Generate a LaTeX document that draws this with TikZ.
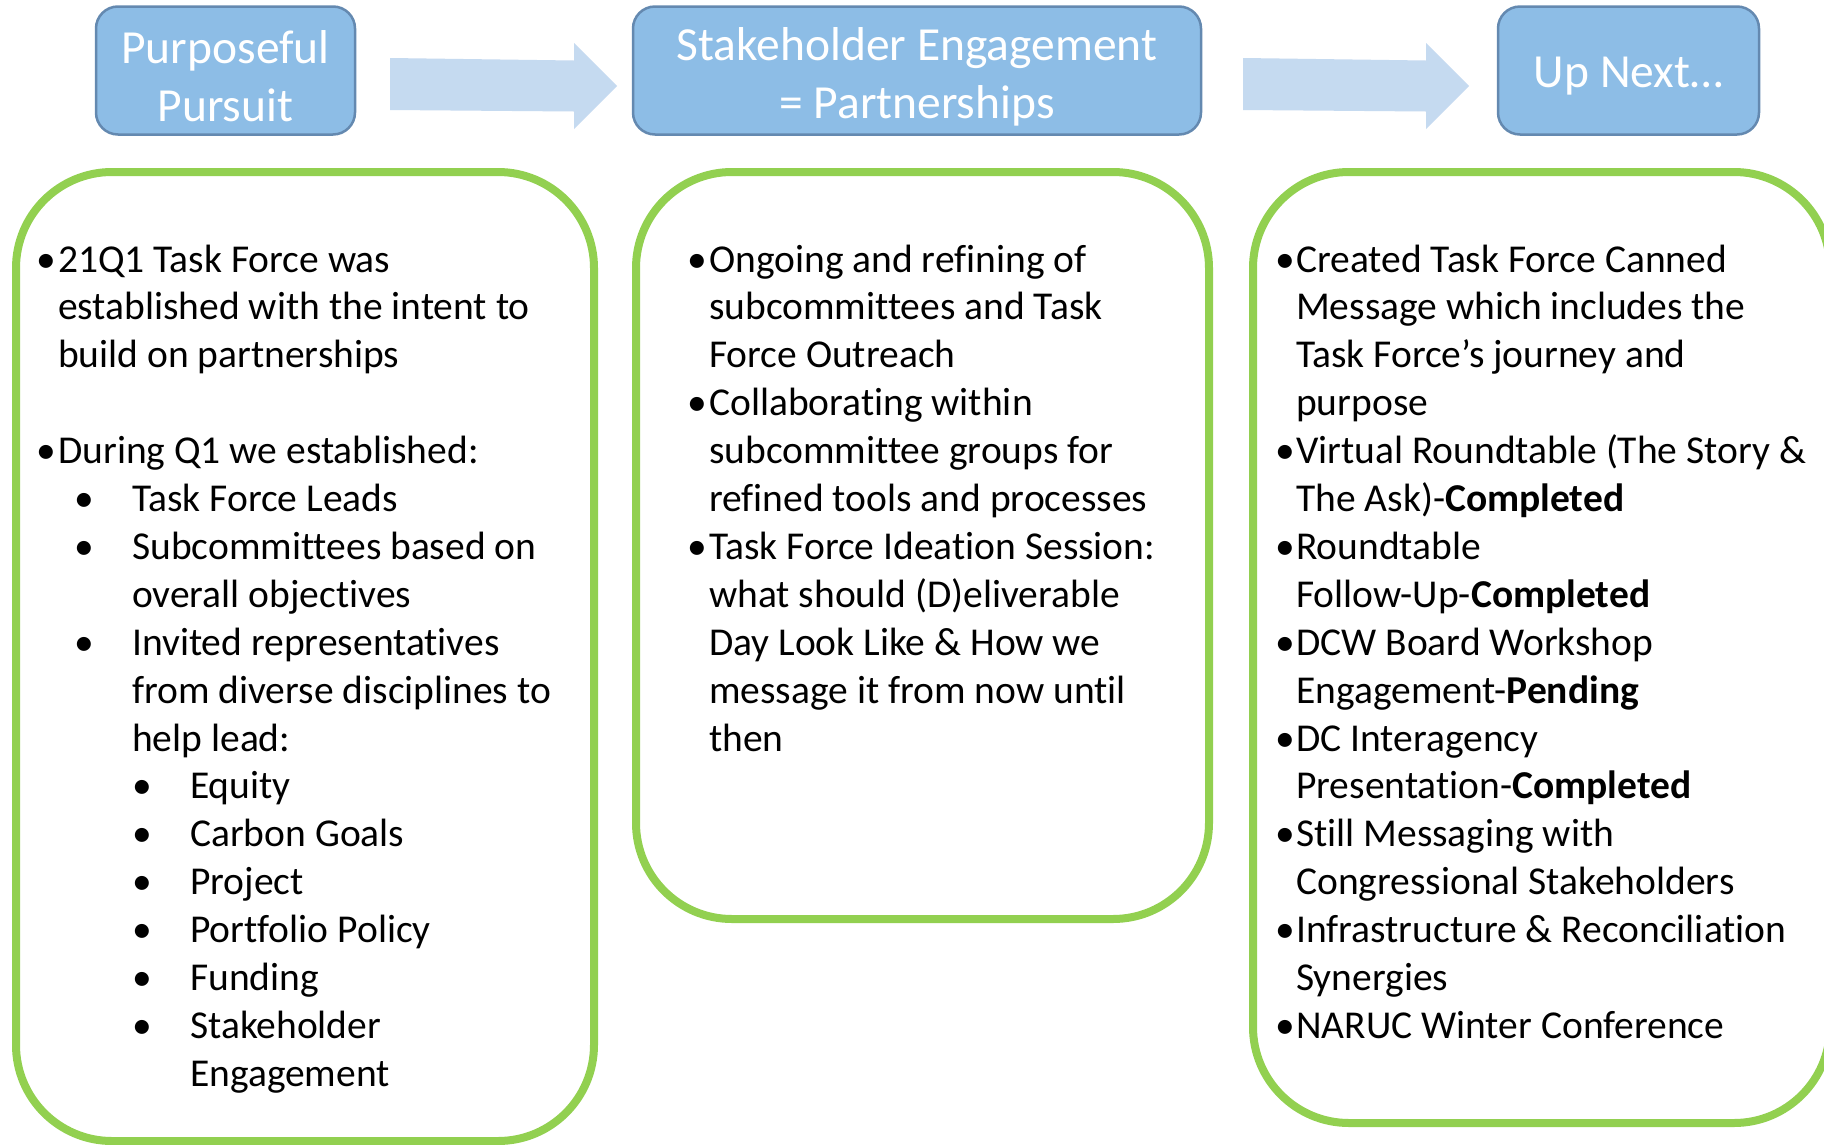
\documentclass[tikz,border=0pt]{standalone}
\usepackage{fontspec}
\setmainfont{Carlito}[Ligatures={NoCommon}]
\definecolor{hfill}{RGB}{141,189,230}
\definecolor{hdraw}{RGB}{100,137,176}
\definecolor{afill}{RGB}{197,218,240}
\definecolor{gline}{RGB}{146,208,80}
\newcommand{\txtline}[4]{\node[txt] (#1) at (#2,{272+47.9*#3}) {#4};}
\newcommand{\bulline}[3]{\node[bul] (#1) at (#2,{272+47.9*#3}) {•};}
\begin{document}
\begin{tikzpicture}[x=1pt,y=-1pt,
  hbox/.style={draw=hdraw, line width=2.5pt, fill=hfill, rounded corners=22pt, inner sep=0pt, minimum height=128pt},
  htext/.style={text=white, font=\fontsize{47.5pt}{58pt}\selectfont, align=center, inner sep=0pt},
  gbox/.style={draw=gline, line width=8pt, rounded corners=96pt, inner sep=0pt},
  txt/.style={anchor=base west, inner sep=0pt, font=\fontsize{39.5pt}{47.9pt}\selectfont},
  bul/.style={anchor=base, inner sep=0pt, font=\fontsize{39.5pt}{47.9pt}\selectfont},
  arrowfill/.style={fill=afill}
]
\useasboundingbox (0,0) rectangle (1824,1144);
\fill[white] (0,0) rectangle (1824,1144);

% header boxes
\node[hbox, minimum width=259pt] (h1) at (225.5,70.5) {};
\node[hbox, minimum width=568pt] (h2) at (917,70.5) {};
\node[hbox, minimum width=261pt] (h3) at (1628.5,70.5) {};
\node[htext] (h1t) at ([yshift=-6pt]h1.center) {Purposeful\\Pursuit};
\node[htext] (h2t) at ([yshift=-6pt]h2.center) {Stakeholder Engagement\\= Partnerships};
\node[htext] (h3t) at ([yshift=-6pt]h3.center) {Up Next…};

% block arrows
\fill[arrowfill] (390,58) -- (574,60.5) -- (574,43) -- (617,86) -- (574,129) -- (574,111.5) -- (390,110) -- cycle;
\fill[arrowfill] (1243,58) -- (1426,60.5) -- (1426,43) -- (1469,86) -- (1426,129) -- (1426,111.5) -- (1243,110) -- cycle;

% green boxes
\node[gbox, minimum width=578pt, minimum height=969pt] (g1) at (305,656.5) {};
\node[gbox, minimum width=573pt, minimum height=747pt] (g2) at (922.5,545.5) {};
\node[gbox, minimum width=577pt, minimum height=951pt] (g3) at (1541.5,647.5) {};

% column 1
\bulline{b1a}{46.5}{0}
\txtline{c1l0}{58}{0}{21Q1 Task Force was}
\txtline{c1l1}{58}{1}{established with the intent to}
\txtline{c1l2}{58}{2}{build on partnerships}
\bulline{b1b}{46.5}{4}
\txtline{c1l4}{58}{4}{During Q1 we established:}
\bulline{b1c}{84}{5}
\txtline{c1l5}{132}{5}{Task Force Leads}
\bulline{b1d}{84}{6}
\txtline{c1l6}{132}{6}{Subcommittees based on}
\txtline{c1l7}{132}{7}{overall objectives}
\bulline{b1e}{84}{8}
\txtline{c1l8}{132}{8}{Invited representatives}
\txtline{c1l9}{132}{9}{from diverse disciplines to}
\txtline{c1l10}{132}{10}{help lead:}
\bulline{b1f}{142}{11}
\txtline{c1l11}{190}{11}{Equity}
\bulline{b1g}{142}{12}
\txtline{c1l12}{190}{12}{Carbon Goals}
\bulline{b1h}{142}{13}
\txtline{c1l13}{190}{13}{Project}
\bulline{b1i}{142}{14}
\txtline{c1l14}{190}{14}{Portfolio Policy}
\bulline{b1j}{142}{15}
\txtline{c1l15}{190}{15}{Funding}
\bulline{b1k}{142}{16}
\txtline{c1l16}{190}{16}{Stakeholder}
\txtline{c1l17}{190}{17}{Engagement}

% column 2
\bulline{b2a}{697}{0}
\txtline{c2l0}{709}{0}{Ongoing and refining of}
\txtline{c2l1}{709}{1}{subcommittees and Task}
\txtline{c2l2}{709}{2}{Force Outreach}
\bulline{b2b}{697}{3}
\txtline{c2l3}{709}{3}{Collaborating within}
\txtline{c2l4}{709}{4}{subcommittee groups for}
\txtline{c2l5}{709}{5}{refined tools and processes}
\bulline{b2c}{697}{6}
\txtline{c2l6}{709}{6}{Task Force Ideation Session:}
\txtline{c2l7}{709}{7}{what should (D)eliverable}
\txtline{c2l8}{709}{8}{Day Look Like \& How we}
\txtline{c2l9}{709}{9}{message it from now until}
\txtline{c2l10}{709}{10}{then}

% column 3
\bulline{b3a}{1285.5}{0}
\txtline{c3l0}{1296}{0}{Created Task Force Canned}
\txtline{c3l1}{1296}{1}{Message which includes the}
\txtline{c3l2}{1296}{2}{Task Force’s journey and}
\txtline{c3l3}{1296}{3}{purpose}
\bulline{b3b}{1285.5}{4}
\txtline{c3l4}{1296}{4}{Virtual Roundtable (The Story \&}
\txtline{c3l5}{1296}{5}{The Ask)-\textbf{Completed}}
\bulline{b3c}{1285.5}{6}
\txtline{c3l6}{1296}{6}{Roundtable}
\txtline{c3l7}{1296}{7}{Follow-Up-\textbf{Completed}}
\bulline{b3d}{1285.5}{8}
\txtline{c3l8}{1296}{8}{DCW Board Workshop}
\txtline{c3l9}{1296}{9}{Engagement-\textbf{Pending}}
\bulline{b3e}{1285.5}{10}
\txtline{c3l10}{1296}{10}{DC Interagency}
\txtline{c3l11}{1296}{11}{Presentation-\textbf{Completed}}
\bulline{b3f}{1285.5}{12}
\txtline{c3l12}{1296}{12}{Still Messaging with}
\txtline{c3l13}{1296}{13}{Congressional Stakeholders}
\bulline{b3g}{1285.5}{14}
\txtline{c3l14}{1296}{14}{Infrastructure \& Reconciliation}
\txtline{c3l15}{1296}{15}{Synergies}
\bulline{b3h}{1285.5}{16}
\txtline{c3l16}{1296}{16}{NARUC Winter Conference}
\end{tikzpicture}
\end{document}
